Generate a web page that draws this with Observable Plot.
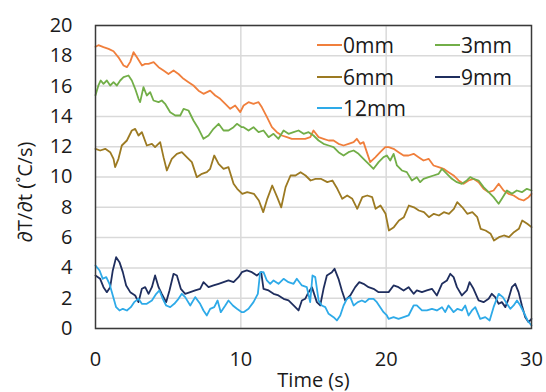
<!DOCTYPE html>
<html><head><meta charset="utf-8">
<script src="https://cdn.jsdelivr.net/npm/d3@7"></script>
<script src="https://cdn.jsdelivr.net/npm/@observablehq/plot@0.6"></script>
<style>
body{margin:0;background:#fff;}
#wrap{position:relative;width:546px;height:392px;font-family:"Open Sans",sans-serif;}
#legend{position:absolute;left:317px;top:29px;display:grid;grid-template-columns:118px 100px;grid-auto-rows:31.7px;font-size:21px;color:#1a1a1a;}
#legend .item{display:flex;align-items:center;white-space:nowrap;}
#legend .sw{display:inline-block;width:25px;height:2px;margin-right:1px;}
</style></head><body><div id="wrap"><div id="legend"></div></div>
<script>
const seriesNames = ["0mm","3mm","6mm","9mm","12mm"];
const seriesColors = ["#F07F3C","#72AE48","#9C7A22","#1F2E5E","#2EAAE8"];
const xTicks = [0,10,20,30];
const yTicks = [0,2,4,6,8,10,12,14,16,18,20];
const xTitle = "Time (s)";
const yTitle = "∂T/∂t (˚C/s)";

const s0mm = [[0,18.6],[0.2,18.7],[0.55,18.57],[0.9,18.46],[1.24,18.3],[1.58,17.9],[1.93,17.36],[2.16,17.25],[2.39,17.6],[2.62,18.24],[2.85,17.9],[3.2,17.36],[3.42,17.47],[3.65,17.47],[4.0,17.58],[4.34,17.25],[4.68,17.03],[5.02,16.8],[5.37,17.03],[5.71,16.8],[6.06,16.48],[6.4,16.26],[6.74,16.04],[7.09,15.7],[7.43,15.49],[7.89,15.7],[8.24,15.38],[8.58,15.16],[8.93,14.83],[9.27,14.5],[9.61,14.72],[9.96,14.28],[10.19,14.72],[10.53,14.94],[10.87,14.83],[11.22,14.94],[11.45,14.6],[11.8,13.95],[12.14,13.29],[12.48,12.96],[12.82,12.74],[13.17,12.63],[13.51,12.52],[13.97,12.52],[14.43,12.52],[14.78,12.63],[15.0,13.07],[15.35,12.63],[15.69,12.52],[16.04,12.41],[16.38,12.41],[16.72,12.19],[17.07,12.08],[17.41,12.19],[17.76,12.3],[17.98,12.52],[18.21,12.19],[18.44,12.3],[18.67,11.64],[18.9,10.98],[19.25,11.3],[19.59,11.64],[19.94,11.97],[20.17,11.97],[20.51,11.86],[20.85,11.64],[21.2,11.42],[21.54,11.42],[21.89,11.53],[22.23,11.31],[22.57,11.09],[22.92,11.2],[23.26,10.76],[23.61,10.65],[23.95,10.54],[24.29,10.32],[24.64,10.1],[24.98,9.77],[25.33,9.55],[25.67,9.77],[26.01,9.88],[26.36,9.66],[26.7,9.22],[27.05,9.0],[27.39,9.11],[27.74,9.55],[28.08,9.11],[28.42,8.89],[28.77,8.78],[29.11,8.56],[29.46,8.45],[29.8,8.67],[30,8.89]];

const s3mm = [[0,15.4],[0.2,16.04],[0.36,16.37],[0.55,16.15],[0.78,16.37],[1.01,16.04],[1.24,16.26],[1.47,16.04],[1.7,16.37],[1.93,16.59],[2.27,16.7],[2.5,16.37],[2.73,15.82],[2.96,15.16],[3.07,14.94],[3.3,15.93],[3.53,15.38],[3.76,15.6],[3.99,15.05],[4.34,14.94],[4.56,15.05],[4.79,14.83],[5.14,14.28],[5.49,14.06],[5.83,14.06],[6.06,14.5],[6.4,14.39],[6.74,13.73],[7.09,13.18],[7.43,12.52],[7.78,12.74],[8.12,13.18],[8.47,13.51],[8.81,13.07],[9.15,13.07],[9.5,13.29],[9.73,13.51],[10.07,13.29],[10.19,13.29],[10.53,13.07],[10.87,13.29],[11.22,12.96],[11.56,13.07],[11.91,12.63],[12.25,12.85],[12.59,12.52],[12.94,13.07],[13.28,12.85],[13.63,12.96],[13.97,13.07],[14.32,12.85],[14.66,12.96],[15.0,12.74],[15.35,12.41],[15.69,12.19],[16.04,12.08],[16.38,11.97],[16.72,11.64],[17.07,11.42],[17.41,11.64],[17.76,11.75],[18.1,11.53],[18.44,11.2],[18.79,10.87],[19.13,10.54],[19.48,10.98],[19.82,11.31],[20.05,11.42],[20.28,11.09],[20.51,11.53],[20.74,10.76],[21.08,10.43],[21.42,10.32],[21.77,9.77],[22.11,9.99],[22.34,9.66],[22.57,9.88],[22.92,9.99],[23.26,10.1],[23.61,10.21],[23.84,10.54],[24.18,10.21],[24.52,9.88],[24.87,9.66],[25.21,9.55],[25.55,9.77],[25.78,9.99],[26.01,9.88],[26.36,9.77],[26.7,9.33],[27.05,9.0],[27.39,8.67],[27.74,8.23],[27.96,8.56],[28.31,9.11],[28.65,8.89],[28.99,9.11],[29.34,9.0],[29.68,9.22],[30,9.11]];

const s6mm = [[0,11.86],[0.32,11.75],[0.67,11.86],[1.01,11.64],[1.24,11.2],[1.35,10.65],[1.58,11.2],[1.81,12.08],[2.16,12.41],[2.5,13.07],[2.73,13.18],[2.96,12.74],[3.19,12.96],[3.53,12.08],[3.88,12.19],[4.1,11.97],[4.45,12.3],[4.68,11.31],[4.91,10.43],[5.25,11.2],[5.6,11.53],[5.94,11.64],[6.28,11.31],[6.63,10.98],[6.97,9.99],[7.32,10.21],[7.66,10.32],[7.89,10.54],[8.17,11.42],[8.47,10.87],[8.81,10.54],[9.15,10.65],[9.5,9.55],[9.75,9.22],[10.1,8.89],[10.44,9.0],[10.9,8.89],[11.24,8.45],[11.54,7.68],[11.82,8.56],[12.16,9.44],[12.5,8.67],[12.78,8.0],[13.08,9.33],[13.42,10.1],[13.76,10.1],[14.11,10.32],[14.45,10.1],[14.8,9.77],[15.14,9.88],[15.5,9.88],[15.95,9.66],[16.3,9.77],[16.64,9.22],[16.98,8.56],[17.32,8.78],[17.67,8.56],[18.01,7.9],[18.36,8.67],[18.7,8.78],[19.04,8.67],[19.27,7.9],[19.61,8.12],[19.96,7.57],[20.19,6.47],[20.53,6.69],[20.88,7.13],[21.22,7.35],[21.56,8.12],[21.91,8.0],[22.25,7.79],[22.6,7.68],[22.94,7.35],[23.28,7.57],[23.63,7.46],[23.97,7.68],[24.32,7.57],[24.66,7.9],[24.89,8.34],[25.24,8.0],[25.58,7.57],[25.93,7.68],[26.27,7.35],[26.5,6.58],[26.84,6.47],[27.19,6.25],[27.42,5.81],[27.76,6.03],[28.1,6.14],[28.45,6.03],[28.79,6.36],[29.13,6.58],[29.36,7.13],[29.71,6.91],[30,6.69]];

const s9mm = [[0,3.5],[0.32,3.28],[0.55,2.73],[0.78,2.4],[1.01,2.73],[1.19,3.83],[1.42,4.71],[1.65,4.38],[1.88,3.72],[2.11,2.84],[2.39,2.4],[2.73,2.18],[2.96,1.74],[3.19,2.62],[3.42,2.73],[3.65,2.29],[3.88,2.73],[4.1,3.5],[4.34,2.73],[4.56,2.29],[4.86,1.74],[5.09,2.51],[5.37,3.61],[5.6,3.5],[5.87,2.62],[6.17,2.29],[6.52,2.4],[6.86,2.51],[7.2,2.62],[7.43,3.06],[7.78,2.73],[8.12,2.84],[8.47,2.95],[8.81,3.06],[9.15,3.17],[9.5,3.06],[9.84,3.39],[10.07,3.72],[10.41,3.83],[10.76,3.72],[11.1,3.5],[11.4,3.72],[11.56,2.62],[11.91,2.51],[12.25,2.29],[12.59,2.18],[12.94,1.96],[13.28,1.85],[13.63,1.52],[13.97,1.19],[14.2,1.85],[14.43,1.96],[14.66,2.4],[14.89,2.73],[15.23,1.74],[15.46,1.52],[15.69,2.62],[15.92,3.5],[16.27,3.72],[16.45,3.94],[16.72,3.28],[16.95,2.51],[17.18,1.85],[17.53,2.18],[17.87,2.73],[18.15,3.06],[18.44,2.95],[18.79,2.73],[19.13,2.62],[19.48,2.4],[19.82,2.4],[20.17,2.4],[20.51,2.84],[20.85,2.73],[21.2,2.51],[21.54,2.73],[21.89,2.29],[22.11,2.51],[22.46,2.4],[22.8,2.51],[23.15,2.62],[23.49,2.18],[23.84,2.95],[24.18,3.17],[24.41,3.61],[24.64,3.39],[24.87,2.73],[25.21,2.18],[25.55,2.51],[25.74,3.06],[26.01,2.62],[26.36,1.85],[26.7,1.74],[27.05,1.96],[27.27,2.29],[27.5,2.07],[27.74,1.63],[27.96,1.74],[28.2,1.41],[28.42,1.96],[28.65,2.73],[28.88,2.95],[29.11,2.4],[29.34,1.52],[29.57,0.75],[29.8,0.42],[30,0.64]];

const s12mm = [[0,4.16],[0.28,3.83],[0.5,3.28],[0.74,3.39],[0.96,2.95],[1.19,2.18],[1.42,1.41],[1.65,1.19],[1.88,1.3],[2.16,1.19],[2.43,1.41],[2.66,1.74],[2.96,1.96],[3.19,1.63],[3.53,1.63],[3.88,1.85],[4.18,2.29],[4.4,2.51],[4.63,1.96],[4.86,1.52],[5.14,1.41],[5.42,1.63],[5.71,1.96],[5.94,2.29],[6.17,2.07],[6.52,1.52],[6.86,2.07],[7.2,1.63],[7.43,1.19],[7.66,0.86],[7.89,1.3],[8.17,1.41],[8.4,1.85],[8.62,1.08],[8.93,1.52],[9.15,1.85],[9.45,1.52],[9.73,1.3],[10.07,1.08],[10.19,1.08],[10.53,1.3],[10.87,1.74],[11.17,2.29],[11.33,3.72],[11.56,3.72],[11.79,3.17],[12.02,2.95],[12.25,3.17],[12.59,2.95],[12.94,3.28],[13.28,3.06],[13.63,2.95],[13.85,3.28],[14.2,2.84],[14.54,2.73],[14.77,1.74],[14.93,3.5],[15.12,3.39],[15.35,1.85],[15.57,1.52],[15.81,1.41],[16.04,0.97],[16.38,0.75],[16.61,0.53],[16.84,0.86],[17.07,1.52],[17.3,1.96],[17.53,2.07],[17.76,1.52],[18.05,1.74],[18.33,1.85],[18.56,1.74],[18.83,1.96],[19.13,1.96],[19.36,1.74],[19.59,1.41],[19.82,1.08],[20.05,0.86],[20.17,0.64],[20.51,0.75],[20.85,0.64],[21.2,0.75],[21.54,0.86],[21.89,1.52],[22.11,1.52],[22.46,1.19],[22.8,1.19],[23.15,1.3],[23.49,1.19],[23.84,1.41],[24.06,1.08],[24.29,1.52],[24.64,1.08],[24.91,1.3],[25.21,1.19],[25.44,1.52],[25.67,0.86],[25.9,1.19],[26.13,1.41],[26.47,0.64],[26.82,0.75],[27.12,0.53],[27.39,1.41],[27.74,2.29],[28.03,2.07],[28.31,1.63],[28.54,1.3],[28.77,1.52],[29.0,1.85],[29.23,1.52],[29.46,1.08],[29.73,0.53],[30,0.2]];

const seriesData = [s0mm, s3mm, s6mm, s9mm, s12mm];
const rows = seriesData.flatMap((arr, i) => arr.map(([t, v]) => ({t, v, s: seriesNames[i]})));

const chart = Plot.plot({
  width: 546, height: 392,
  marginLeft: 95, marginRight: 15, marginTop: 25, marginBottom: 64,
  style: {fontFamily: "'Open Sans', sans-serif", fontSize: "20px", color: "#1a1a1a", background: "white"},
  x: {domain: [0, 30]},
  y: {domain: [0, 20]},
  color: {domain: seriesNames, range: seriesColors},
  marks: [
    Plot.gridY(yTicks, {stroke: "#d9d9d9", strokeOpacity: 1, strokeWidth: 1.5}),
    Plot.gridX([10, 20], {stroke: "#d9d9d9", strokeOpacity: 1, strokeWidth: 1.5}),
    Plot.line(rows, {x: "t", y: "v", z: "s", stroke: "s", strokeWidth: 1.8}),
    Plot.frame({stroke: "#3a3a3a", strokeWidth: 1.5}),
    Plot.axisX(xTicks, {tickSize: 0, tickPadding: 23, fontSize: 20, label: xTitle, labelAnchor: "center", labelOffset: 58, labelArrow: "none"}),
    Plot.axisY(yTicks, {tickSize: 0, tickPadding: 23, fontSize: 20, label: null}),
    Plot.text([yTitle], {frameAnchor: "left", text: d => d, rotate: -90, dx: -70, dy: 15, fontSize: 20, textAnchor: "middle", lineAnchor: "middle", fill: "#1a1a1a"})
  ]
});
const wrap = document.getElementById("wrap");
wrap.insertBefore(chart, wrap.firstChild);

const legend = document.getElementById("legend");
seriesNames.forEach((name, i) => {
  const it = document.createElement("div");
  it.className = "item";
  const sw = document.createElement("span");
  sw.className = "sw";
  sw.style.background = seriesColors[i];
  it.appendChild(sw);
  it.appendChild(document.createTextNode(name));
  legend.appendChild(it);
});
</script>
</body></html>
